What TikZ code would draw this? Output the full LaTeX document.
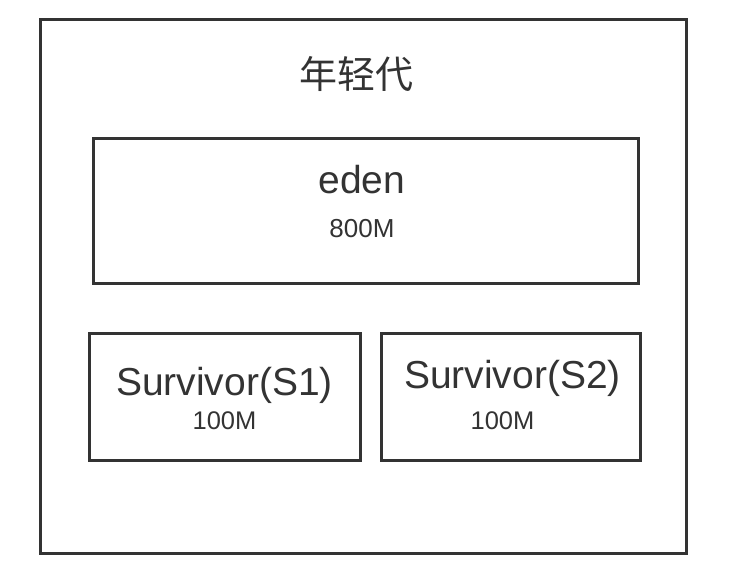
\documentclass[tikz,border=0pt]{standalone}
\usepackage{fontspec}
\setmainfont{Liberation Sans}
\newfontfamily\cjk{Noto Sans CJK SC}
\definecolor{ink}{HTML}{333333}
\begin{document}
\begin{tikzpicture}[x=1pt,y=-1pt,
  box/.style={draw=ink,line width=3pt,inner sep=0pt},
  lbl/.style={text=ink,anchor=base,inner sep=0pt}]
\useasboundingbox (0,0) rectangle (736,582);
\node[box,minimum width=646pt,minimum height=534pt] (outer) at (363.5,286) {};
\node[box,minimum width=545pt,minimum height=145pt] (eden) at (365.5,210.5) {};
\node[box,minimum width=271pt,minimum height=127pt] (s1) at (224.5,396.5) {};
\node[box,minimum width=259pt,minimum height=127pt] (s2) at (510.5,396.5) {};
\node[lbl,font=\cjk\fontsize{38}{40}\selectfont] (title) at (356,88) {年轻代};
\node[lbl,font=\fontsize{39}{42}\selectfont] (edent) at (362,193) {eden};
\node[lbl,font=\fontsize{26}{30}\selectfont] (edens) at (362,237) {800M};
\node[lbl,font=\fontsize{39}{42}\selectfont] (s1t) at (224.5,395) {Survivor(S1)};
\node[lbl,font=\fontsize{25.5}{30}\selectfont] (s1s) at (224.5,429) {100M};
\node[lbl,font=\fontsize{39}{42}\selectfont] (s2t) at (512.5,388) {Survivor(S2)};
\node[lbl,font=\fontsize{25.5}{30}\selectfont] (s2s) at (502.5,429) {100M};
\end{tikzpicture}
\end{document}
